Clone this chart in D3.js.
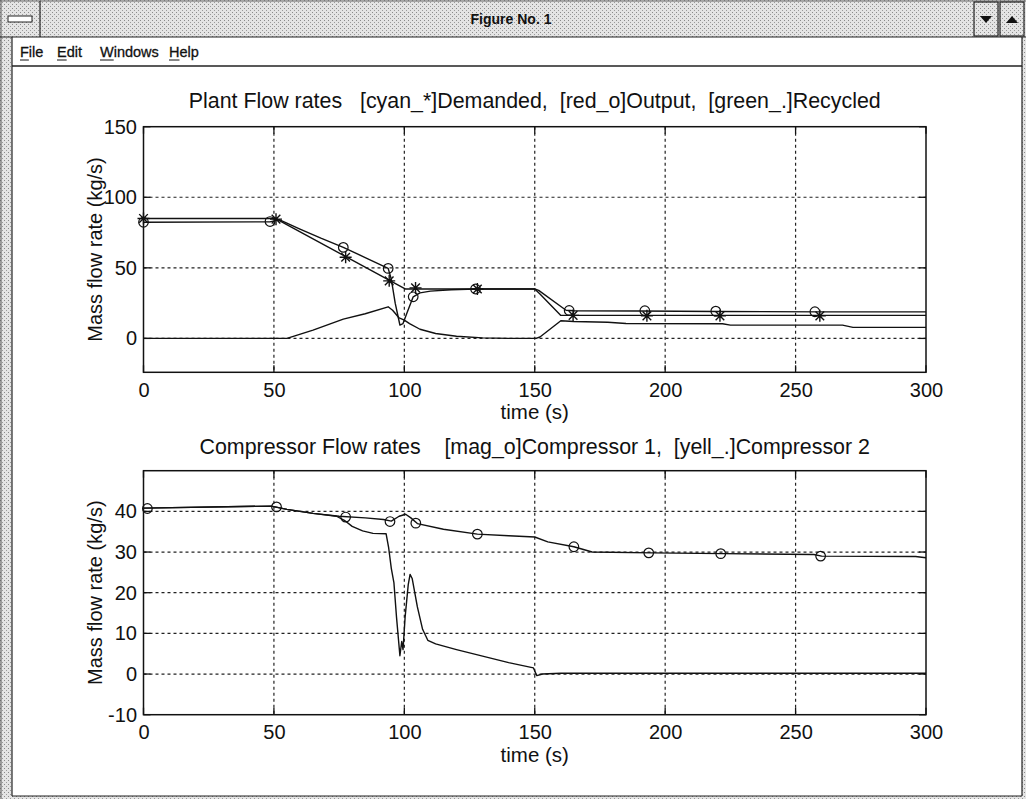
<!DOCTYPE html>
<html>
<head>
<meta charset="utf-8">
<script src="https://cdn.jsdelivr.net/npm/d3@7"></script>
<style>
    body { margin: 0; background: #fff; }
    text { font-family: "Liberation Sans", Arial, sans-serif; fill: #111; }
</style>
</head>
<body>
<div class="viz"></div>
<script>
// ---- chart data ----
const xTicks = [0, 50, 100, 150, 200, 250, 300];
const topYTicks = [0, 50, 100, 150];
const botYTicks = [-10, 0, 10, 20, 30, 40];

const topTitle = "Plant Flow rates   [cyan_*]Demanded,  [red_o]Output,  [green_.]Recycled";
const botTitle = "Compressor Flow rates    [mag_o]Compressor 1,  [yell_.]Compressor 2";
const menuItems = ["File", "Edit", "Windows", "Help"];

// [time, kg/s]
const demanded = [[0, 85], [50.5, 85], [100.5, 35], [150, 35], [152, 31.5], [160, 16.3], [300, 16.3]];
const demandedMarks = [[0, 85], [50.8, 84.5], [77.5, 57.5], [94.2, 40.8], [104.3, 35.8], [128, 35],
    [164.7, 16.3], [193, 16], [221, 16], [259.3, 16]];

const output = [[0, 82.3], [48.5, 82.6], [52, 84.2], [60, 77.5], [68, 71], [76.6, 64.5], [85, 57.3],
    [93.8, 49.6], [95, 42], [96.5, 25], [98.3, 9.5], [99.5, 10.5], [101, 18], [103.4, 29.5],
    [106, 32.3], [110, 33.5], [118, 34.5], [127.3, 35], [150, 35], [151.5, 34], [162, 20],
    [165, 19.6], [190, 19.4], [220, 19.1], [260, 18.8], [300, 18.8]];
const outputMarks = [[0, 82.3], [48.5, 82.8], [76.6, 64.5], [93.8, 49.6], [103.4, 29.5], [127.3, 35],
    [163.2, 19.8], [192.2, 19.6], [219.4, 19.3], [257.4, 18.9]];

const recycled = [[0, 0], [55, 0], [65, 5.9], [76.6, 13.7], [85, 17.5], [93.8, 22.4], [95.5, 20],
    [98, 14.5], [100, 13], [102, 10.5], [106, 6.5], [112, 3.5], [120, 1.5], [130, 0.4], [140, 0],
    [150.5, 0], [152, 1], [160, 12.5], [165, 12], [178, 11.5], [185, 10.6], [222, 10.4],
    [225, 9.4], [268, 9.4], [272, 7.8], [300, 7.8]];

const comp1 = [[0, 40.8], [49, 41.3], [55, 40.5], [65, 39.5], [75, 38.8], [85, 38.4], [92, 38],
    [95, 37.6], [98, 38.8], [100.5, 39.3], [102.5, 38.4], [105, 37], [115, 35.6], [128, 34.4],
    [140, 34], [150, 33.7], [155, 32.5], [165, 31.3], [172, 30], [195, 29.8], [222, 29.6],
    [257, 29.4], [260, 29], [296, 28.9], [300, 28.6]];
const comp1Marks = [[1.5, 40.7], [51, 41.1], [77.5, 38.6], [94.5, 37.5], [104.4, 37.1], [128, 34.4],
    [165, 31.3], [193.7, 29.8], [221.3, 29.6], [259.6, 29]];

const comp2 = [[0, 40.8], [49, 41.3], [55, 40.5], [65, 39.5], [74, 38.8], [77, 37.8], [80, 36.3],
    [84, 35.2], [88, 34.6], [93, 34.5], [94, 31], [95, 26], [96, 22.5], [97, 14], [98.3, 4.5],
    [99, 8], [99.5, 6], [100.3, 14], [101.5, 22], [102.2, 24.5], [103, 23.5], [105, 16.5],
    [107, 11], [109, 8.3], [112, 7.4], [120, 6], [130, 4.4], [140, 2.8], [149.5, 1.5],
    [150.8, -0.4], [153, 0], [160, 0.2], [300, 0.2]];

// ---- page ----
var W = 1026, H = 799;
var svg = d3.select(".viz").append("svg").attr("width", W).attr("height", H);

var defs = svg.append("defs");
var pat = defs.append("pattern").attr("id", "stip").attr("width", 4).attr("height", 4)
    .attr("patternUnits", "userSpaceOnUse");
pat.append("rect").attr("width", 4).attr("height", 4).attr("fill", "#e4e4e4");
pat.append("rect").attr("x", 0).attr("y", 0).attr("width", 1).attr("height", 1).attr("fill", "#8a8a8a");
pat.append("rect").attr("x", 2).attr("y", 2).attr("width", 1).attr("height", 1).attr("fill", "#9a9a9a");

svg.append("rect").attr("width", W).attr("height", H).attr("fill", "#fff");

/**
 * Window frame, title bar and menu
 */
var frame = svg.append("g");
frame.append("rect").attr("x", 0).attr("y", 0).attr("width", 12).attr("height", H).attr("fill", "url(#stip)");
frame.append("rect").attr("x", W - 4).attr("y", 0).attr("width", 4).attr("height", H).attr("fill", "url(#stip)");
frame.append("rect").attr("x", 0).attr("y", 796).attr("width", W).attr("height", 3).attr("fill", "url(#stip)");
frame.append("rect").attr("x", 0).attr("y", 0).attr("width", W).attr("height", 37).attr("fill", "url(#stip)");
frame.append("line").attr("x1", 1).attr("x2", 1).attr("y1", 0).attr("y2", H).attr("stroke", "#555");
frame.append("line").attr("x1", 12).attr("x2", 12).attr("y1", 37).attr("y2", 796).attr("stroke", "#222").attr("stroke-width", 1.2);
frame.append("line").attr("x1", W - 4).attr("x2", W - 4).attr("y1", 37).attr("y2", 796).attr("stroke", "#222").attr("stroke-width", 1.2);
frame.append("line").attr("x1", 12).attr("x2", W - 4).attr("y1", 796).attr("y2", 796).attr("stroke", "#222").attr("stroke-width", 1.2);
frame.append("line").attr("x1", 0).attr("x2", W).attr("y1", 1).attr("y2", 1).attr("stroke", "#666");
frame.append("line").attr("x1", 0).attr("x2", W).attr("y1", 37).attr("y2", 37).attr("stroke", "#222").attr("stroke-width", 1.2);

// system menu box
frame.append("line").attr("x1", 40).attr("x2", 40).attr("y1", 1).attr("y2", 37).attr("stroke", "#222").attr("stroke-width", 1.2);
frame.append("rect").attr("x", 8).attr("y", 16).attr("width", 24).attr("height", 6)
    .attr("fill", "#fff").attr("stroke", "#222");

// min / max buttons
[[974, "M 980 16 L 992 16 L 986 23 Z"], [1000, "M 1006 23 L 1018 23 L 1012 16 Z"]].forEach(function (b) {
    frame.append("rect").attr("x", b[0]).attr("y", 2).attr("width", 24).attr("height", 34)
        .attr("fill", "url(#stip)").attr("stroke", "#222").attr("stroke-width", 1.2);
    frame.append("path").attr("d", b[1]).attr("fill", "#111");
});

frame.append("text").attr("x", 511).attr("y", 24).attr("text-anchor", "middle")
    .attr("font-size", 14).attr("font-weight", "bold").text("Figure No. 1");

var menuX = [20, 57, 100, 169];
menuItems.forEach(function (m, i) {
    frame.append("text").attr("x", menuX[i]).attr("y", 57).attr("font-size", 14.5)
        .attr("stroke", "#111").attr("stroke-width", 0.3).text(m);
    // underline the access key (first letter)
    var first = frame.append("text").attr("font-size", 14.5).attr("visibility", "hidden").text(m[0]);
    var w1 = first.node().getComputedTextLength();
    first.remove();
    frame.append("line").attr("x1", menuX[i]).attr("x2", menuX[i] + w1)
        .attr("y1", 60).attr("y2", 60).attr("stroke", "#111");
});
frame.append("line").attr("x1", 12).attr("x2", W - 4).attr("y1", 66).attr("y2", 66)
    .attr("stroke", "#222").attr("stroke-width", 1.5);

/**
 * Axes panels
 */
var x = d3.scaleLinear().domain([0, 300]).range([143.5, 926]);

function starPath(r) {
    var d = r * 0.72;
    return `M${-r},0L${r},0M0,${-r}L0,${r}M${-d},${-d}L${d},${d}M${-d},${d}L${d},${-d}`;
}

function drawPanel(p) {
    var y = d3.scaleLinear().domain(p.yDomain).range(p.yRange);
    var g = svg.append("g");
    var x0 = x.range()[0], x1 = x.range()[1];
    var yb = y.range()[0], yt = y.range()[1];

    // grid
    g.append("g").selectAll("line").data(xTicks.filter((t) => t > 0 && t < 300)).enter()
        .append("line")
        .attr("x1", (d) => x(d)).attr("x2", (d) => x(d))
        .attr("y1", yt).attr("y2", yb)
        .attr("stroke", "#222").attr("stroke-width", 1.2).attr("stroke-dasharray", "3,3");
    g.append("g").selectAll("line")
        .data(p.yTicks.filter((t) => t > p.yDomain[0] && t < p.yDomain[1])).enter()
        .append("line")
        .attr("x1", x0).attr("x2", x1)
        .attr("y1", (d) => y(d)).attr("y2", (d) => y(d))
        .attr("stroke", "#222").attr("stroke-width", 1.2).attr("stroke-dasharray", "3,3");

    // inward ticks
    xTicks.forEach(function (t) {
        g.append("line").attr("x1", x(t)).attr("x2", x(t)).attr("y1", yb).attr("y2", yb - 7).attr("stroke", "#111").attr("stroke-width", 1.3);
        g.append("line").attr("x1", x(t)).attr("x2", x(t)).attr("y1", yt).attr("y2", yt + 7).attr("stroke", "#111").attr("stroke-width", 1.3);
    });
    p.yTicks.forEach(function (t) {
        g.append("line").attr("x1", x0).attr("x2", x0 + 7).attr("y1", y(t)).attr("y2", y(t)).attr("stroke", "#111").attr("stroke-width", 1.3);
        g.append("line").attr("x1", x1).attr("x2", x1 - 7).attr("y1", y(t)).attr("y2", y(t)).attr("stroke", "#111").attr("stroke-width", 1.3);
    });

    // series lines
    var line = d3.line().x((d) => x(d[0])).y((d) => y(d[1]));
    p.lines.forEach(function (s) {
        g.append("path").datum(s).attr("d", line)
            .attr("fill", "none").attr("stroke", "#111").attr("stroke-width", 1.4)
            .attr("stroke-linejoin", "round");
    });

    // markers
    (p.circles || []).forEach(function (s) {
        g.append("g").selectAll("circle").data(s).enter().append("circle")
            .attr("cx", (d) => x(d[0])).attr("cy", (d) => y(d[1])).attr("r", 4.8)
            .attr("fill", "none").attr("stroke", "#111").attr("stroke-width", 1.2);
    });
    (p.stars || []).forEach(function (s) {
        g.append("g").selectAll("path").data(s).enter().append("path")
            .attr("transform", (d) => `translate(${x(d[0])},${y(d[1])})`)
            .attr("d", starPath(6))
            .attr("fill", "none").attr("stroke", "#111").attr("stroke-width", 1.4);
    });

    // box
    g.append("rect").attr("x", x0).attr("y", yt).attr("width", x1 - x0).attr("height", yb - yt)
        .attr("fill", "none").attr("stroke", "#111").attr("stroke-width", 1.5);

    // tick labels (plain hyphen for negatives, as in the original)
    g.append("g").attr("transform", `translate(0,${yb})`)
        .call(d3.axisBottom(x).tickValues(xTicks).tickSize(0).tickPadding(10.5).tickFormat((d) => String(d)))
        .call((a) => a.select(".domain").remove())
        .attr("font-size", 20).attr("font-family", "Liberation Sans, Arial, sans-serif");
    g.append("g").attr("transform", `translate(${x0},0)`)
        .call(d3.axisLeft(y).tickValues(p.yTicks).tickSize(0).tickPadding(6.5).tickFormat((d) => String(d)))
        .call((a) => a.select(".domain").remove())
        .attr("font-size", 20).attr("font-family", "Liberation Sans, Arial, sans-serif");
    g.selectAll(".tick text").attr("fill", "#111");

    // labels
    g.append("text").attr("x", (x0 + x1) / 2).attr("y", p.titleY).attr("text-anchor", "middle")
        .attr("font-size", 21.4).style("white-space", "pre").text(p.title);
    g.append("text").attr("x", (x0 + x1) / 2).attr("y", p.xlabelY).attr("text-anchor", "middle")
        .attr("font-size", 20.5).text("time (s)");
    g.append("text").attr("transform", `translate(102,${(yb + yt) / 2}) rotate(-90)`)
        .attr("text-anchor", "middle").attr("font-size", 20).text("Mass flow rate (kg/s)");
}

drawPanel({
    yDomain: [-24, 150], yRange: [372.3, 126.7], yTicks: topYTicks,
    title: topTitle, titleY: 108, xlabelY: 419,
    lines: [demanded, output, recycled],
    circles: [outputMarks], stars: [demandedMarks],
});

drawPanel({
    yDomain: [-10, 50], yRange: [714.7, 470.7], yTicks: botYTicks,
    title: botTitle, titleY: 454, xlabelY: 762,
    lines: [comp1, comp2],
    circles: [comp1Marks],
});
</script>
</body>
</html>
